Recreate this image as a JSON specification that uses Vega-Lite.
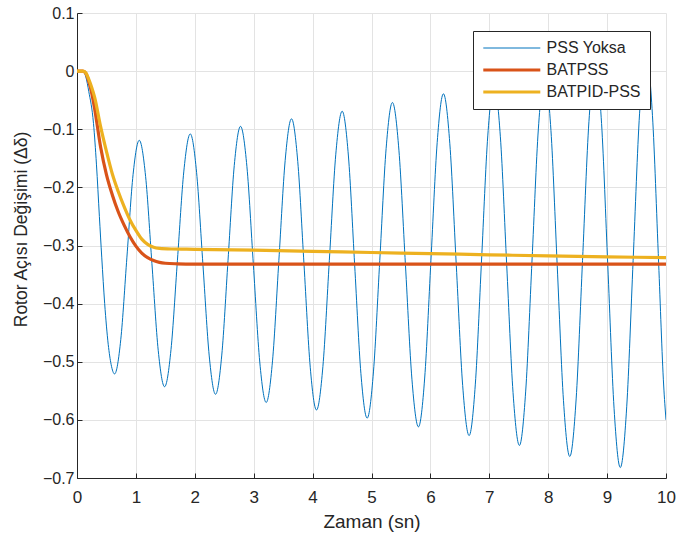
{
  "$schema": "https://vega.github.io/schema/vega-lite/v6.json",
  "width": 589,
  "height": 465,
  "autosize": {"type": "none"},
  "padding": {"left": 77, "top": 13, "right": 10, "bottom": 60},
  "background": "white",
  "config": {
    "font": "Liberation Sans",
    "view": {"stroke": null},
    "axis": {
      "labelFont": "Liberation Sans",
      "titleFont": "Liberation Sans",
      "titleFontWeight": "normal",
      "labelColor": "#262626",
      "titleColor": "#262626",
      "domainColor": "#262626",
      "tickColor": "#262626",
      "gridColor": "#e3e3e3",
      "gridWidth": 1,
      "domainWidth": 1
    },
    "legend": {
      "orient": "none",
      "legendX": 396,
      "legendY": 18,
      "fillColor": "white",
      "strokeColor": "#262626",
      "padding": 9,
      "symbolType": "M-5,0H5",
      "symbolSize": 130,
      "symbolOffset": 21.8,
      "labelOffset": 26.8,
      "labelFontSize": 16,
      "labelFont": "Liberation Sans",
      "labelColor": "#262626",
      "rowPadding": 6
    }
  },
  "data": {
    "values": [
      {"t": 0, "v": 0, "s": "PSS Yoksa"},
      {"t": 0.1, "v": 0, "s": "PSS Yoksa"},
      {"t": 0.15, "v": -0.01, "s": "PSS Yoksa"},
      {"t": 0.2, "v": -0.035, "s": "PSS Yoksa"},
      {"t": 0.28, "v": -0.09, "s": "PSS Yoksa"},
      {"t": 0.33, "v": -0.16, "s": "PSS Yoksa"},
      {"t": 0.38, "v": -0.25, "s": "PSS Yoksa"},
      {"t": 0.42, "v": -0.32, "s": "PSS Yoksa"},
      {"t": 0.47, "v": -0.4, "s": "PSS Yoksa"},
      {"t": 0.53, "v": -0.47, "s": "PSS Yoksa"},
      {"t": 0.58, "v": -0.505, "s": "PSS Yoksa"},
      {"t": 0.638, "v": -0.521, "s": "PSS Yoksa"},
      {"t": 0.743, "v": -0.462, "s": "PSS Yoksa"},
      {"t": 0.8475, "v": -0.32, "s": "PSS Yoksa"},
      {"t": 0.952, "v": -0.178, "s": "PSS Yoksa"},
      {"t": 1.057, "v": -0.119, "s": "PSS Yoksa"},
      {"t": 1.1645, "v": -0.181, "s": "PSS Yoksa"},
      {"t": 1.272, "v": -0.331, "s": "PSS Yoksa"},
      {"t": 1.3795, "v": -0.481, "s": "PSS Yoksa"},
      {"t": 1.487, "v": -0.543, "s": "PSS Yoksa"},
      {"t": 1.596, "v": -0.479, "s": "PSS Yoksa"},
      {"t": 1.705, "v": -0.3255, "s": "PSS Yoksa"},
      {"t": 1.814, "v": -0.172, "s": "PSS Yoksa"},
      {"t": 1.923, "v": -0.108, "s": "PSS Yoksa"},
      {"t": 2.03, "v": -0.174, "s": "PSS Yoksa"},
      {"t": 2.1375, "v": -0.332, "s": "PSS Yoksa"},
      {"t": 2.245, "v": -0.49, "s": "PSS Yoksa"},
      {"t": 2.352, "v": -0.556, "s": "PSS Yoksa"},
      {"t": 2.458, "v": -0.4885, "s": "PSS Yoksa"},
      {"t": 2.564, "v": -0.3255, "s": "PSS Yoksa"},
      {"t": 2.67, "v": -0.1625, "s": "PSS Yoksa"},
      {"t": 2.776, "v": -0.095, "s": "PSS Yoksa"},
      {"t": 2.885, "v": -0.1645, "s": "PSS Yoksa"},
      {"t": 2.994, "v": -0.3325, "s": "PSS Yoksa"},
      {"t": 3.103, "v": -0.5005, "s": "PSS Yoksa"},
      {"t": 3.212, "v": -0.57, "s": "PSS Yoksa"},
      {"t": 3.3195, "v": -0.4985, "s": "PSS Yoksa"},
      {"t": 3.427, "v": -0.326, "s": "PSS Yoksa"},
      {"t": 3.5345, "v": -0.1535, "s": "PSS Yoksa"},
      {"t": 3.642, "v": -0.082, "s": "PSS Yoksa"},
      {"t": 3.748, "v": -0.1555, "s": "PSS Yoksa"},
      {"t": 3.854, "v": -0.3325, "s": "PSS Yoksa"},
      {"t": 3.96, "v": -0.5095, "s": "PSS Yoksa"},
      {"t": 4.066, "v": -0.583, "s": "PSS Yoksa"},
      {"t": 4.175, "v": -0.508, "s": "PSS Yoksa"},
      {"t": 4.284, "v": -0.326, "s": "PSS Yoksa"},
      {"t": 4.393, "v": -0.144, "s": "PSS Yoksa"},
      {"t": 4.502, "v": -0.069, "s": "PSS Yoksa"},
      {"t": 4.608, "v": -0.146, "s": "PSS Yoksa"},
      {"t": 4.714, "v": -0.333, "s": "PSS Yoksa"},
      {"t": 4.82, "v": -0.52, "s": "PSS Yoksa"},
      {"t": 4.926, "v": -0.597, "s": "PSS Yoksa"},
      {"t": 5.033, "v": -0.5175, "s": "PSS Yoksa"},
      {"t": 5.1405, "v": -0.3255, "s": "PSS Yoksa"},
      {"t": 5.248, "v": -0.1335, "s": "PSS Yoksa"},
      {"t": 5.355, "v": -0.054, "s": "PSS Yoksa"},
      {"t": 5.4655, "v": -0.136, "s": "PSS Yoksa"},
      {"t": 5.576, "v": -0.333, "s": "PSS Yoksa"},
      {"t": 5.6865, "v": -0.53, "s": "PSS Yoksa"},
      {"t": 5.797, "v": -0.612, "s": "PSS Yoksa"},
      {"t": 5.903, "v": -0.528, "s": "PSS Yoksa"},
      {"t": 6.009, "v": -0.3255, "s": "PSS Yoksa"},
      {"t": 6.115, "v": -0.123, "s": "PSS Yoksa"},
      {"t": 6.221, "v": -0.039, "s": "PSS Yoksa"},
      {"t": 6.33, "v": -0.125, "s": "PSS Yoksa"},
      {"t": 6.439, "v": -0.333, "s": "PSS Yoksa"},
      {"t": 6.548, "v": -0.541, "s": "PSS Yoksa"},
      {"t": 6.657, "v": -0.627, "s": "PSS Yoksa"},
      {"t": 6.763, "v": -0.5385, "s": "PSS Yoksa"},
      {"t": 6.8685, "v": -0.325, "s": "PSS Yoksa"},
      {"t": 6.974, "v": -0.1115, "s": "PSS Yoksa"},
      {"t": 7.08, "v": -0.023, "s": "PSS Yoksa"},
      {"t": 7.188, "v": -0.113, "s": "PSS Yoksa"},
      {"t": 7.2955, "v": -0.3335, "s": "PSS Yoksa"},
      {"t": 7.403, "v": -0.553, "s": "PSS Yoksa"},
      {"t": 7.511, "v": -0.644, "s": "PSS Yoksa"},
      {"t": 7.618, "v": -0.5505, "s": "PSS Yoksa"},
      {"t": 7.7255, "v": -0.325, "s": "PSS Yoksa"},
      {"t": 7.833, "v": -0.0995, "s": "PSS Yoksa"},
      {"t": 7.94, "v": -0.006, "s": "PSS Yoksa"},
      {"t": 8.0465, "v": -0.102, "s": "PSS Yoksa"},
      {"t": 8.153, "v": -0.3345, "s": "PSS Yoksa"},
      {"t": 8.2595, "v": -0.567, "s": "PSS Yoksa"},
      {"t": 8.366, "v": -0.663, "s": "PSS Yoksa"},
      {"t": 8.4745, "v": -0.564, "s": "PSS Yoksa"},
      {"t": 8.583, "v": -0.3255, "s": "PSS Yoksa"},
      {"t": 8.6915, "v": -0.087, "s": "PSS Yoksa"},
      {"t": 8.8, "v": 0.012, "s": "PSS Yoksa"},
      {"t": 8.906, "v": -0.09, "s": "PSS Yoksa"},
      {"t": 9.012, "v": -0.335, "s": "PSS Yoksa"},
      {"t": 9.118, "v": -0.58, "s": "PSS Yoksa"},
      {"t": 9.224, "v": -0.682, "s": "PSS Yoksa"},
      {"t": 9.333, "v": -0.5775, "s": "PSS Yoksa"},
      {"t": 9.442, "v": -0.3255, "s": "PSS Yoksa"},
      {"t": 9.551, "v": -0.0735, "s": "PSS Yoksa"},
      {"t": 9.66, "v": 0.031, "s": "PSS Yoksa"},
      {"t": 9.77, "v": -0.076, "s": "PSS Yoksa"},
      {"t": 9.875, "v": -0.33, "s": "PSS Yoksa"},
      {"t": 9.96, "v": -0.54, "s": "PSS Yoksa"},
      {"t": 10, "v": -0.6, "s": "PSS Yoksa"},

      {"t": 0, "v": 0, "s": "BATPSS"},
      {"t": 0.1, "v": 0, "s": "BATPSS"},
      {"t": 0.15, "v": -0.004, "s": "BATPSS"},
      {"t": 0.2, "v": -0.018, "s": "BATPSS"},
      {"t": 0.25, "v": -0.038, "s": "BATPSS"},
      {"t": 0.3, "v": -0.065, "s": "BATPSS"},
      {"t": 0.4, "v": -0.13, "s": "BATPSS"},
      {"t": 0.5, "v": -0.178, "s": "BATPSS"},
      {"t": 0.6, "v": -0.213, "s": "BATPSS"},
      {"t": 0.7, "v": -0.242, "s": "BATPSS"},
      {"t": 0.8, "v": -0.265, "s": "BATPSS"},
      {"t": 0.9, "v": -0.285, "s": "BATPSS"},
      {"t": 1.0, "v": -0.301, "s": "BATPSS"},
      {"t": 1.1, "v": -0.313, "s": "BATPSS"},
      {"t": 1.2, "v": -0.321, "s": "BATPSS"},
      {"t": 1.3, "v": -0.326, "s": "BATPSS"},
      {"t": 1.4, "v": -0.329, "s": "BATPSS"},
      {"t": 1.5, "v": -0.3305, "s": "BATPSS"},
      {"t": 1.7, "v": -0.3315, "s": "BATPSS"},
      {"t": 2.0, "v": -0.332, "s": "BATPSS"},
      {"t": 10, "v": -0.332, "s": "BATPSS"},

      {"t": 0, "v": 0, "s": "BATPID-PSS"},
      {"t": 0.1, "v": 0, "s": "BATPID-PSS"},
      {"t": 0.15, "v": -0.003, "s": "BATPID-PSS"},
      {"t": 0.2, "v": -0.014, "s": "BATPID-PSS"},
      {"t": 0.25, "v": -0.028, "s": "BATPID-PSS"},
      {"t": 0.3, "v": -0.045, "s": "BATPID-PSS"},
      {"t": 0.4, "v": -0.095, "s": "BATPID-PSS"},
      {"t": 0.5, "v": -0.138, "s": "BATPID-PSS"},
      {"t": 0.6, "v": -0.177, "s": "BATPID-PSS"},
      {"t": 0.7, "v": -0.207, "s": "BATPID-PSS"},
      {"t": 0.8, "v": -0.233, "s": "BATPID-PSS"},
      {"t": 0.9, "v": -0.256, "s": "BATPID-PSS"},
      {"t": 1.0, "v": -0.274, "s": "BATPID-PSS"},
      {"t": 1.1, "v": -0.289, "s": "BATPID-PSS"},
      {"t": 1.2, "v": -0.298, "s": "BATPID-PSS"},
      {"t": 1.3, "v": -0.303, "s": "BATPID-PSS"},
      {"t": 1.4, "v": -0.305, "s": "BATPID-PSS"},
      {"t": 1.6, "v": -0.306, "s": "BATPID-PSS"},
      {"t": 2.0, "v": -0.3065, "s": "BATPID-PSS"},
      {"t": 3.0, "v": -0.308, "s": "BATPID-PSS"},
      {"t": 4.0, "v": -0.31, "s": "BATPID-PSS"},
      {"t": 5.0, "v": -0.312, "s": "BATPID-PSS"},
      {"t": 6.0, "v": -0.314, "s": "BATPID-PSS"},
      {"t": 7.0, "v": -0.316, "s": "BATPID-PSS"},
      {"t": 8.0, "v": -0.318, "s": "BATPID-PSS"},
      {"t": 9.0, "v": -0.3195, "s": "BATPID-PSS"},
      {"t": 10, "v": -0.321, "s": "BATPID-PSS"}
    ]
  },
  "mark": {"type": "line", "interpolate": "monotone", "clip": true},
  "encoding": {
    "x": {
      "field": "t", "type": "quantitative",
      "scale": {"domain": [0, 10], "nice": false},
      "axis": {"title": "Zaman (sn)", "values": [0,1,2,3,4,5,6,7,8,9,10], "format": "d", "tickSize": -5, "labelPadding": 16, "labelFontSize": 17, "titleFontSize": 19, "titlePadding": 7, "labelFlush": false}
    },
    "y": {
      "field": "v", "type": "quantitative",
      "scale": {"domain": [-0.7, 0.1], "nice": false, "zero": false},
      "axis": {"title": "Rotor Açısı Değişimi (Δδ)", "values": [-0.7,-0.6,-0.5,-0.4,-0.3,-0.2,-0.1,0,0.1], "labelExpr": "datum.value == 0 ? '0' : datum.label", "tickSize": -5, "labelPadding": 8, "labelFontSize": 16, "titleFontSize": 17.5, "titlePadding": 12, "titleY": 216, "labelFlush": false}
    },
    "color": {
      "field": "s", "type": "nominal",
      "scale": {"domain": ["PSS Yoksa", "BATPSS", "BATPID-PSS"], "range": ["#0072BD", "#D95319", "#EDB120"]},
      "legend": {"title": null}
    },
    "strokeWidth": {
      "field": "s", "type": "nominal",
      "scale": {"type": "ordinal", "domain": ["PSS Yoksa", "BATPSS", "BATPID-PSS"], "range": [1, 3.2, 3.2]},
      "legend": {"title": null}
    }
  }
}
